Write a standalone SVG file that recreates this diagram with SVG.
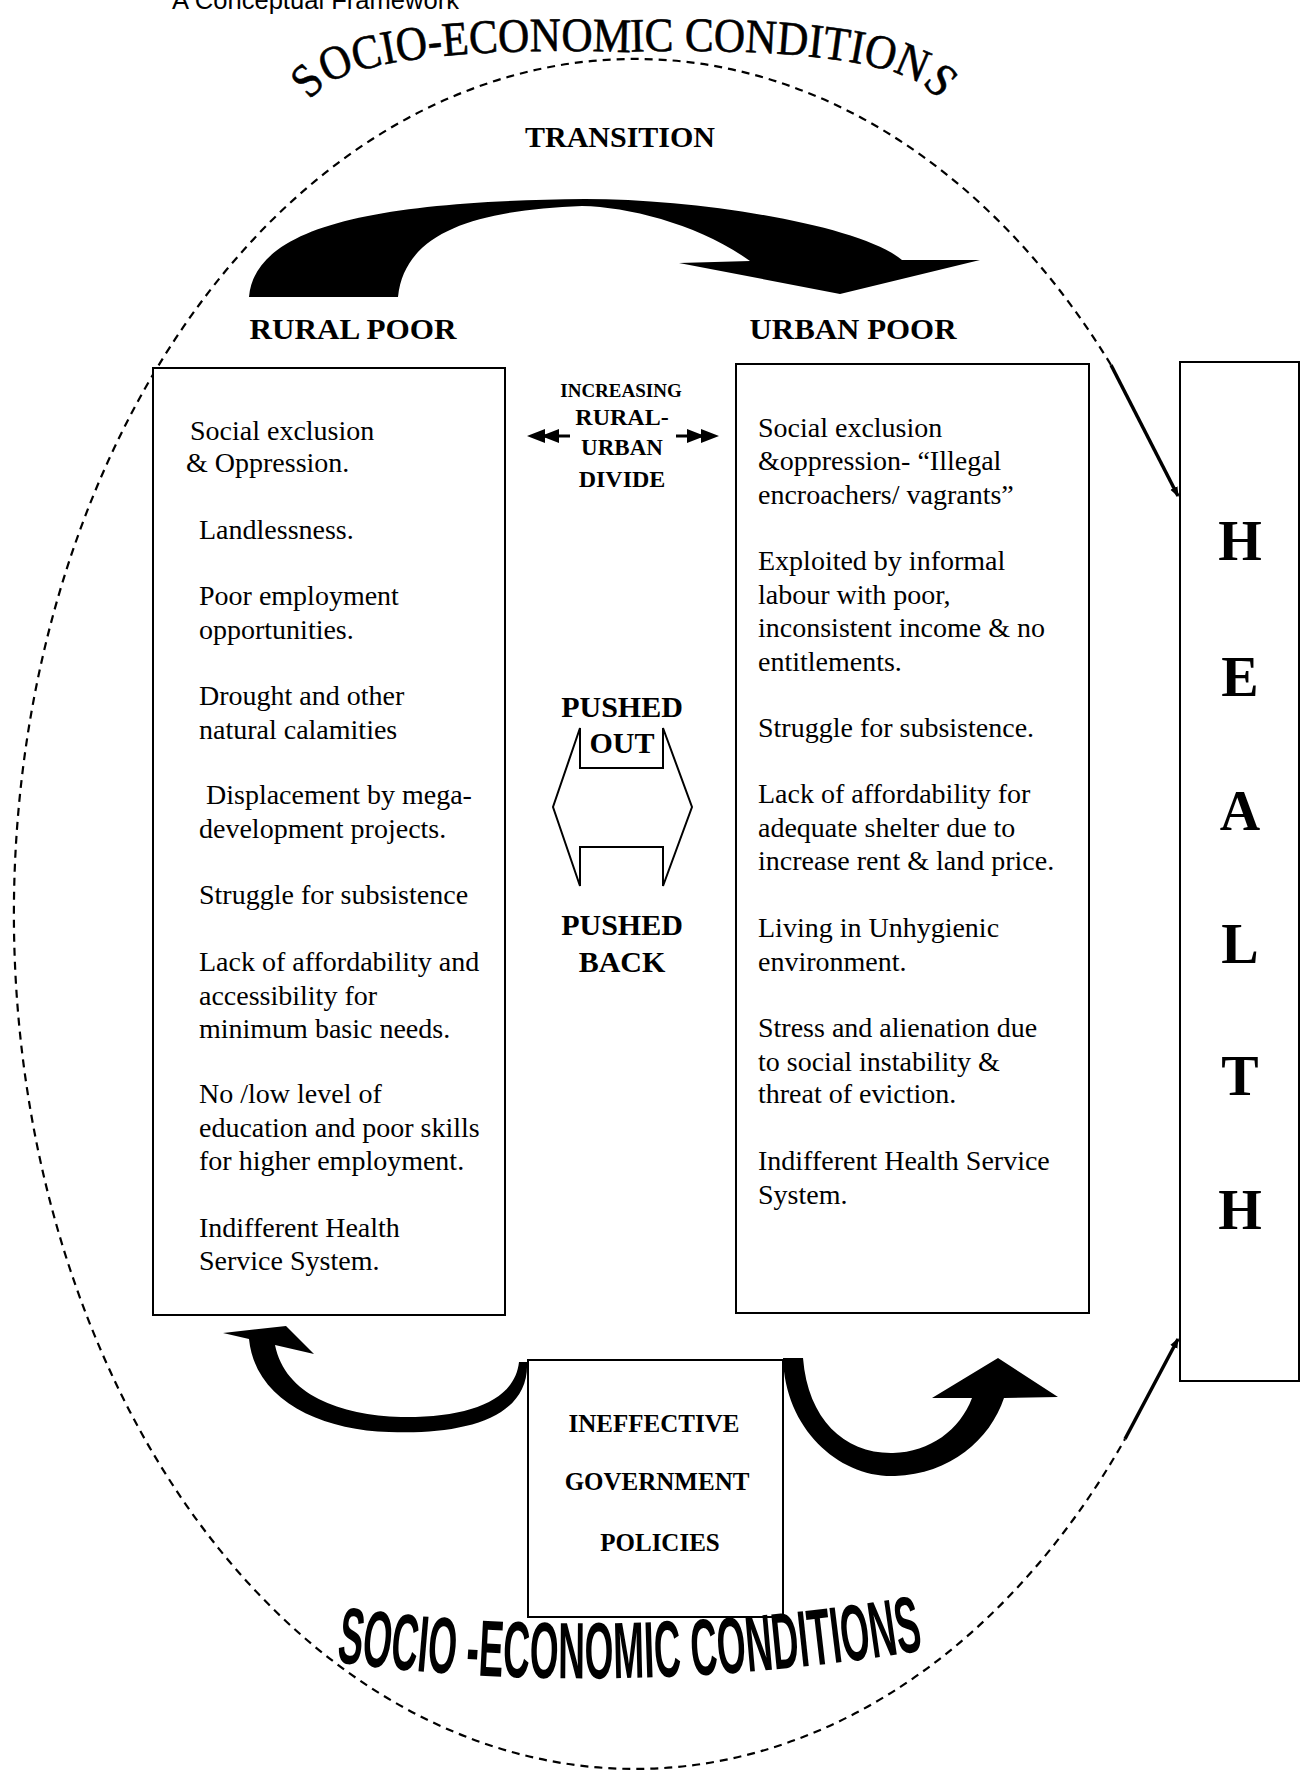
<svg xmlns="http://www.w3.org/2000/svg" width="1305" height="1776" viewBox="0 0 1305 1776">
<style>
.box{fill:#fff;stroke:#000;stroke-width:2}
.t{font-family:"Liberation Serif",serif;font-size:28px;fill:#000}
.b{font-family:"Liberation Serif",serif;font-weight:bold;fill:#000}
.blk{fill:#000;stroke:none}
.ell{fill:none;stroke:#000;stroke-width:2.2;stroke-dasharray:8 6}
.con{fill:none;stroke:#000;stroke-width:3.5}
.hl{font-family:"Liberation Serif",serif;font-weight:bold;font-size:56px;text-anchor:middle}
</style>
<defs>
<marker id="ah" markerWidth="10" markerHeight="10" refX="9" refY="5" orient="auto" markerUnits="userSpaceOnUse" viewBox="0 0 10 10">
<path d="M0,1 L10,5 L0,9 Z" fill="#000"/>
</marker>
<path id="arcTop" d="M 308 112 C 310 45, 560 50, 622 52 C 690 50, 938 45, 940 112"/>
<path id="arcBot" d="M 336 1662 Q 620 1700 926 1650"/>
</defs>

<text x="172" y="9" style="font-family:'Liberation Sans',sans-serif;font-size:25px" textLength="287" lengthAdjust="spacingAndGlyphs">A Conceptual Framework</text>

<g id="connectors">
<path class="ell" d="M 1111 365 A 621 855 0 1 0 1125 1439"/>
<line class="con" x1="1111" y1="365" x2="1178" y2="496" marker-end="url(#ah)"/>
<line class="con" x1="1125" y1="1439" x2="1178" y2="1339" marker-end="url(#ah)"/>
<path id="transition-arrow" class="blk" d="M 249 297 C 255 225, 380 201, 585 199 C 700 199, 860 225, 902 260 L 980 260 L 840 294 L 679 263 L 750 261 C 700 225, 630 207, 582 206 C 480 210, 405 230, 398 297 Z"/>
<path id="policy-arrow-left" class="blk" d="M 527 1362 C 530 1420, 460 1435, 389 1432 C 320 1430, 255 1400, 249 1339 L 223 1333 L 286 1326 L 314 1354 L 275 1345 C 285 1395, 340 1415, 401 1417 C 470 1418, 515 1400, 519 1362 Z"/>
<path id="policy-arrow-right" class="blk" d="M 783 1358 C 785 1430, 840 1478, 895 1476 C 950 1474, 990 1440, 1004 1398 L 1058 1397 L 998 1358 L 932 1398 L 972 1398 C 960 1430, 930 1452, 893 1453 C 845 1454, 808 1420, 803 1358 Z"/>
<g id="divide-arrows">
<line x1="534" y1="436" x2="570" y2="436" stroke="#000" stroke-width="3"/>
<path class="blk" d="M527,436 L545,429 L545,443 Z M541,436 L559,429 L559,443 Z"/>
<line x1="676" y1="436" x2="712" y2="436" stroke="#000" stroke-width="3"/>
<path class="blk" d="M719,436 L701,429 L701,443 Z M705,436 L687,429 L687,443 Z"/>
</g>
<path id="push-arrows" fill="#fff" stroke="#000" stroke-width="2" d="M 580 728 L 553 807 L 580 886 L 580 847 L 663 847 L 663 886 L 692 807 L 663 728 L 663 768 L 580 768 Z"/>
</g>

<g id="title-top">
<text style="font-family:'Liberation Serif',serif;font-size:48px;stroke:#000;stroke-width:0.6"><textPath href="#arcTop" startOffset="50%" text-anchor="middle" textLength="650" lengthAdjust="spacingAndGlyphs">SOCIO-ECONOMIC CONDITIONS</textPath></text>
</g>

<g id="transition">
<text class="b" x="620" y="147" font-size="30" text-anchor="middle">TRANSITION</text>
</g>

<g id="rural-label"><text class="b" x="353" y="339" font-size="30" text-anchor="middle" textLength="207" lengthAdjust="spacingAndGlyphs">RURAL POOR</text></g>
<g id="urban-label"><text class="b" x="853" y="339" font-size="30" text-anchor="middle" textLength="207" lengthAdjust="spacingAndGlyphs">URBAN POOR</text></g>

<g id="rural-box">
<rect class="box" x="153" y="368" width="352" height="947"/>
<text class="t" x="190" y="440">Social exclusion</text>
<text class="t" x="186" y="472">&amp; Oppression.</text>
<text class="t" x="199" y="539">Landlessness.</text>
<text class="t" x="199" y="605">Poor employment</text>
<text class="t" x="199" y="639">opportunities.</text>
<text class="t" x="199" y="705">Drought and other</text>
<text class="t" x="199" y="739">natural calamities</text>
<text class="t" x="206" y="804">Displacement by mega-</text>
<text class="t" x="199" y="838">development projects.</text>
<text class="t" x="199" y="904">Struggle for subsistence</text>
<text class="t" x="199" y="971">Lack of affordability and</text>
<text class="t" x="199" y="1005">accessibility for</text>
<text class="t" x="199" y="1038">minimum basic needs.</text>
<text class="t" x="199" y="1103">No /low level of</text>
<text class="t" x="199" y="1137">education and poor skills</text>
<text class="t" x="199" y="1170">for higher employment.</text>
<text class="t" x="199" y="1237">Indifferent Health</text>
<text class="t" x="199" y="1270">Service System.</text>
</g>

<g id="urban-box">
<rect class="box" x="736" y="364" width="353" height="949"/>
<text class="t" x="758" y="437">Social exclusion</text>
<text class="t" x="758" y="470">&amp;oppression- “Illegal</text>
<text class="t" x="758" y="504">encroachers/ vagrants”</text>
<text class="t" x="758" y="570">Exploited by informal</text>
<text class="t" x="758" y="604">labour with poor,</text>
<text class="t" x="758" y="637">inconsistent income &amp; no</text>
<text class="t" x="758" y="671">entitlements.</text>
<text class="t" x="758" y="737">Struggle for subsistence.</text>
<text class="t" x="758" y="803">Lack of affordability for</text>
<text class="t" x="758" y="837">adequate shelter due to</text>
<text class="t" x="758" y="870">increase rent &amp; land price.</text>
<text class="t" x="758" y="937">Living in Unhygienic</text>
<text class="t" x="758" y="971">environment.</text>
<text class="t" x="758" y="1037">Stress and alienation due</text>
<text class="t" x="758" y="1071">to social instability &amp;</text>
<text class="t" x="758" y="1103">threat of eviction.</text>
<text class="t" x="758" y="1170">Indifferent Health Service</text>
<text class="t" x="758" y="1204">System.</text>
</g>

<g id="divide-label">
<text class="b" x="621" y="397" font-size="19" text-anchor="middle">INCREASING</text>
<text class="b" x="622" y="425" font-size="24" text-anchor="middle">RURAL-</text>
<text class="b" x="622" y="455" font-size="23" text-anchor="middle">URBAN</text>
<text class="b" x="622" y="487" font-size="24" text-anchor="middle">DIVIDE</text>
</g>

<g id="pushed-labels">
<text class="b" x="622" y="717" font-size="30" text-anchor="middle">PUSHED</text>
<text class="b" x="622" y="753" font-size="30" text-anchor="middle">OUT</text>
<text class="b" x="622" y="935" font-size="30" text-anchor="middle">PUSHED</text>
<text class="b" x="622" y="972" font-size="30" text-anchor="middle">BACK</text>
</g>

<g id="health-box">
<rect class="box" x="1180" y="362" width="119" height="1019"/>
<text class="hl" x="1240" y="560">H</text>
<text class="hl" x="1240" y="696">E</text>
<text class="hl" x="1240" y="830">A</text>
<text class="hl" x="1240" y="963">L</text>
<text class="hl" x="1240" y="1095">T</text>
<text class="hl" x="1240" y="1229">H</text>
</g>

<g id="policy-box">
<rect class="box" x="528" y="1360" width="255" height="257"/>
<text class="b" x="654" y="1432" font-size="25" text-anchor="middle">INEFFECTIVE</text>
<text class="b" x="657" y="1490" font-size="25" text-anchor="middle">GOVERNMENT</text>
<text class="b" x="660" y="1551" font-size="25" text-anchor="middle">POLICIES</text>
</g>

<g id="title-bottom">
<text style="font-family:'Liberation Sans',sans-serif;font-weight:bold;font-size:80px"><textPath href="#arcBot" textLength="590" lengthAdjust="spacingAndGlyphs">SOCIO -ECONOMIC CONDITIONS</textPath></text>
</g>
</svg>
